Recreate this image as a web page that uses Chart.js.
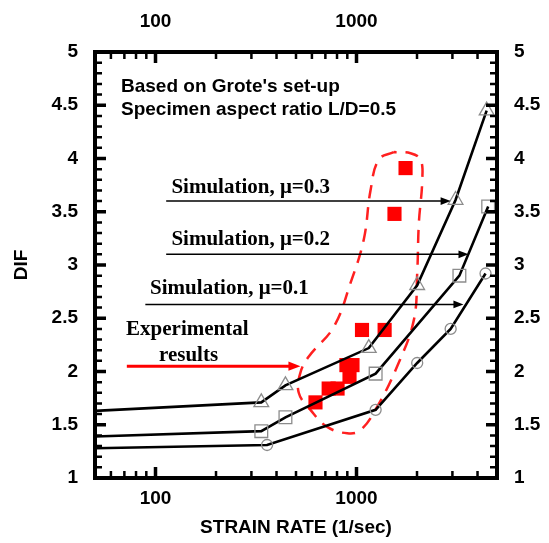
<!DOCTYPE html>
<html>
<head>
<meta charset="utf-8">
<script src="https://cdn.jsdelivr.net/npm/chart.js@4.4.1/dist/chart.umd.min.js"></script>
<style>
  html, body { margin: 0; padding: 0; background: #fff; }
  #wrap { width: 549px; height: 543px; }
</style>
</head>
<body>
<div id="wrap"><canvas id="chart" width="549" height="543"></canvas></div>
<script>
// ---------------------------------------------------------------------------
// Data
// ---------------------------------------------------------------------------

const xTickLabels = [100, 1000];
const yTickLabels = [1, 1.5, 2, 2.5, 3, 3.5, 4, 4.5, 5];

// simulation curves (first point = left edge of the plot, no marker)
const rateMu03 = [50, 336, 443, 1151, 2004, 3110, 4440];
const difMu03 = [1.63, 1.71, 1.87, 2.22, 2.81, 3.61, 4.45];

const rateMu02 = [50, 336, 443, 1245, 3250, 4520];
const difMu02 = [1.39, 1.44, 1.57, 1.98, 2.90, 3.55];

const rateMu01 = [50, 359, 1245, 2004, 2940, 4385];
const difMu01 = [1.28, 1.31, 1.64, 2.08, 2.40, 2.92];

// experimental results
const rateExp = [1754, 1545, 1065, 1380, 891, 955, 923, 727, 805, 625];
const difExp = [3.91, 3.48, 2.39, 2.39, 2.06, 2.06, 1.95, 1.84, 1.84, 1.71];

// dashed envelope around the experimental points (closed loop)
const rateEnvelope = [1533, 1291, 1174, 1087, 933, 771, 579, 526, 516, 590, 715, 899,
                      1048, 1268, 1594, 1927, 2004, 2042, 2124, 2081, 1857, 1533];
const difEnvelope = [4.06, 3.99, 3.70, 3.24, 2.83, 2.42, 2.14, 1.99, 1.80, 1.64, 1.48, 1.42,
                     1.45, 1.67, 2.05, 2.48, 2.92, 3.39, 3.80, 3.99, 4.05, 4.06];

// ---------------------------------------------------------------------------
// Annotations (in data coordinates)
// ---------------------------------------------------------------------------

const arrows = [
    { from: 113, to: 2940, y: 3.60, color: '#000', width: 1.5, head: 10 },
    { from: 113, to: 3607, y: 3.10, color: '#000', width: 1.5, head: 10 },
    { from: 89, to: 3404, y: 2.63, color: '#000', width: 1.5, head: 10 },
    { from: 72, to: 526, y: 2.05, color: '#ff0000', width: 3, head: 12 }
];

const notes = [
    { text: 'Simulation, \u03bc=0.3', x: 120, y: 3.73, align: 'left' },
    { text: 'Simulation, \u03bc=0.2', x: 120, y: 3.24, align: 'left' },
    { text: 'Simulation, \u03bc=0.1', x: 94, y: 2.78, align: 'left' },
    { text: 'Experimental', x: 144, y: 2.39, align: 'center' },
    { text: 'results', x: 146, y: 2.15, align: 'center' }
];

const SERIF = 'bold 21px "Liberation Serif", "Times New Roman", serif';
const SANS = '"Liberation Sans", Arial, sans-serif';

function pts(xs, ys) {
    return xs.map((x, i) => ({ x, y: ys[i] }));
}

function simulationDataset(label, xs, ys, pointStyle, radius) {
    return {
        label,
        data: pts(xs, ys),
        borderColor: '#000',
        borderWidth: 2.6,
        pointStyle,
        pointRadius: ctx => (ctx.dataIndex === 0 ? 0 : radius),
        pointBorderColor: '#8c8c8c',
        pointBorderWidth: 1.3,
        pointBackgroundColor: 'rgba(0,0,0,0)',
        tension: 0,
        showLine: true
    };
}

// ---------------------------------------------------------------------------
// Plugins: boxed frame with inward ticks, arrows and text notes
// ---------------------------------------------------------------------------

const framePlugin = {
    id: 'frameTicks',
    afterDraw(chart) {
        const { ctx, chartArea: a, scales } = chart;
        const xs = scales.x;
        const ys = scales.y;
        ctx.save();
        ctx.strokeStyle = '#000';
        ctx.lineCap = 'butt';

        // x ticks: decades major, 2..9 minor
        for (let dec = 10; dec <= 1000; dec *= 10) {
            for (let m = 1; m <= 9; m++) {
                const v = m * dec;
                if (v < xs.min || v > xs.max) continue;
                const px = xs.getPixelForValue(v);
                const len = m === 1 ? 11 : 7;
                ctx.lineWidth = m === 1 ? 3.5 : 2.5;
                ctx.beginPath();
                ctx.moveTo(px, a.bottom); ctx.lineTo(px, a.bottom - len);
                ctx.moveTo(px, a.top); ctx.lineTo(px, a.top + len);
                ctx.stroke();
            }
        }

        // y ticks: every 0.1, major every 0.5
        for (let i = 10; i <= 50; i++) {
            const v = i / 10;
            const py = ys.getPixelForValue(v);
            const major = i % 5 === 0;
            const len = major ? 11 : 7;
            ctx.lineWidth = major ? 3.5 : 2.5;
            ctx.beginPath();
            ctx.moveTo(a.left, py); ctx.lineTo(a.left + len, py);
            ctx.moveTo(a.right, py); ctx.lineTo(a.right - len, py);
            ctx.stroke();
        }

        ctx.lineWidth = 4;
        ctx.strokeRect(a.left, a.top, a.right - a.left, a.bottom - a.top);
        ctx.restore();
    }
};

const notesPlugin = {
    id: 'notes',
    afterDatasetsDraw(chart) {
        const { ctx, chartArea: a, scales } = chart;
        const xs = scales.x;
        const ys = scales.y;
        ctx.save();

        arrows.forEach(ar => {
            const x0 = xs.getPixelForValue(ar.from);
            const x1 = xs.getPixelForValue(ar.to);
            const y = ys.getPixelForValue(ar.y);
            ctx.strokeStyle = ar.color;
            ctx.fillStyle = ar.color;
            ctx.lineWidth = ar.width;
            ctx.beginPath();
            ctx.moveTo(x0, y);
            ctx.lineTo(x1 - ar.head + 1, y);
            ctx.stroke();
            ctx.beginPath();
            ctx.moveTo(x1, y);
            ctx.lineTo(x1 - ar.head, y - ar.head * 0.38);
            ctx.lineTo(x1 - ar.head, y + ar.head * 0.38);
            ctx.closePath();
            ctx.fill();
        });

        ctx.fillStyle = '#000';
        ctx.font = SERIF;
        ctx.textBaseline = 'middle';
        notes.forEach(n => {
            ctx.textAlign = n.align;
            ctx.fillText(n.text, xs.getPixelForValue(n.x), ys.getPixelForValue(n.y));
        });

        ctx.font = 'bold 19px ' + SANS;
        ctx.textAlign = 'left';
        ctx.fillText("Based on Grote's set-up", a.left + 26, a.top + 35);
        ctx.fillText('Specimen aspect ratio L/D=0.5', a.left + 26, a.top + 58);
        ctx.restore();
    }
};

// ---------------------------------------------------------------------------
// Chart
// ---------------------------------------------------------------------------

const tickFont = { family: SANS, size: 19, weight: 'bold' };

function xTickCallback(value) {
    const hit = xTickLabels.find(t => Math.abs(t - value) < 1e-6 * t);
    return hit ? String(hit) : '';
}

function logAxis(position, height, padding, title) {
    return {
        type: 'logarithmic',
        position,
        min: 50,
        max: 5000,
        display: true,
        grid: { drawOnChartArea: false, drawTicks: false },
        border: { display: false },
        ticks: {
            callback: xTickCallback,
            autoSkip: false,
            maxRotation: 0,
            padding,
            color: '#000',
            font: tickFont
        },
        title: title ? {
            display: true,
            text: title,
            color: '#000',
            font: { family: SANS, size: 19, weight: 'bold' },
            padding: { top: 0, bottom: 4 }
        } : { display: false },
        afterFit(scale) { scale.height = height; }
    };
}

function linAxis(position, width, title) {
    return {
        type: 'linear',
        position,
        min: 1,
        max: 5,
        display: true,
        grid: { drawOnChartArea: false, drawTicks: false },
        border: { display: false },
        ticks: {
            stepSize: 0.5,
            padding: 17,
            color: '#000',
            font: tickFont,
            callback: v => (yTickLabels.includes(v) ? String(v) : '')
        },
        title: title ? {
            display: true,
            text: title,
            color: '#000',
            font: { family: SANS, size: 19, weight: 'bold' },
            padding: { top: 10, bottom: 0 }
        } : { display: false },
        afterFit(scale) { scale.width = width; }
    };
}

new Chart(document.getElementById('chart'), {
    type: 'scatter',
    data: {
        datasets: [
            simulationDataset('Simulation, \u03bc=0.3', rateMu03, difMu03, 'triangle', 8.5),
            simulationDataset('Simulation, \u03bc=0.2', rateMu02, difMu02, 'rect', 9),
            simulationDataset('Simulation, \u03bc=0.1', rateMu01, difMu01, 'circle', 5.5),
            {
                label: 'Experimental results',
                data: pts(rateExp, difExp),
                pointStyle: 'rect',
                pointRadius: 10,
                pointBackgroundColor: '#ff0000',
                pointBorderWidth: 0,
                showLine: false
            },
            {
                label: 'envelope',
                data: pts(rateEnvelope, difEnvelope),
                borderColor: '#ff2020',
                borderWidth: 2.5,
                borderDash: [13, 9],
                pointRadius: 0,
                showLine: true,
                tension: 0.4
            }
        ]
    },
    options: {
        responsive: false,
        devicePixelRatio: 1,
        animation: false,
        layout: { padding: 0 },
        plugins: {
            legend: { display: false },
            tooltip: { enabled: false }
        },
        scales: {
            x: logAxis('bottom', 65, 9, 'STRAIN RATE (1/sec)'),
            x2: logAxis('top', 52, 19, null),
            y: linAxis('left', 95, 'DIF'),
            y2: linAxis('right', 52, null)
        }
    },
    plugins: [framePlugin, notesPlugin]
});
</script>
</body>
</html>
